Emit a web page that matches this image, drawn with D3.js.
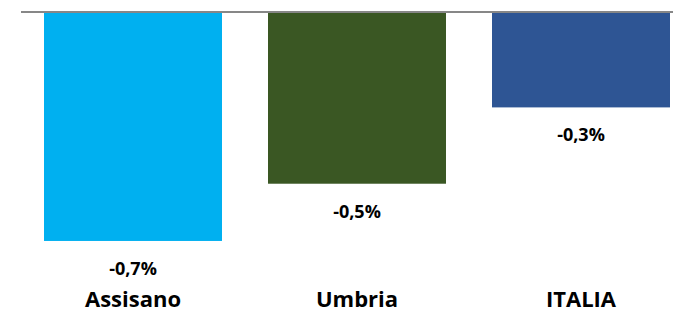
<!DOCTYPE html>
<html>
<head>
<meta charset="utf-8">
<script src="https://cdn.jsdelivr.net/npm/d3@7"></script>
<style>
  body { margin: 0; background: #fff; }
  svg { display: block; }
  text { font-family: "Open Sans", sans-serif; font-weight: bold; fill: #000; }
</style>
</head>
<body>
<svg width="673" height="312"></svg>
<script>
var categories = ["Assisano", "Umbria", "ITALIA"];
var values = [-0.72, -0.54, -0.30];
var colors = ["#00B0F0", "#3A5723", "#2E5594"];

var svg = d3.select("svg");

var xScale = d3.scaleBand()
  .domain(categories)
  .range([21, 693])
  .paddingInner(0.2054)
  .paddingOuter(0.1027);

var yScale = d3.scaleLinear()
  .domain([-1, 0])
  .range([12 + 318, 12]);

var fmt = v => (v < 0 ? "-" : "") + Math.abs(v).toFixed(1).replace(".", ",") + "%";

var g = svg.append("g");

g.selectAll("rect")
  .data(values)
  .enter()
  .append("rect")
  .attr("x", (d, i) => xScale(categories[i]))
  .attr("y", yScale(0))
  .attr("width", xScale.bandwidth())
  .attr("height", d => yScale(d) - yScale(0))
  .attr("fill", (d, i) => colors[i]);

// axis line at zero
g.append("line")
  .attr("x1", 21)
  .attr("x2", 673)
  .attr("y1", yScale(0))
  .attr("y2", yScale(0))
  .attr("stroke", "#878787")
  .attr("stroke-width", 2);

// value labels under each bar
g.selectAll("text.val")
  .data(values)
  .enter()
  .append("text")
  .attr("class", "val")
  .attr("x", (d, i) => xScale(categories[i]) + xScale.bandwidth() / 2)
  .attr("y", d => yScale(d) + 34)
  .attr("text-anchor", "middle")
  .style("font-size", "18px")
  .text(d => fmt(d));

// category labels
g.selectAll("text.cat")
  .data(categories)
  .enter()
  .append("text")
  .attr("class", "cat")
  .attr("x", d => xScale(d) + xScale.bandwidth() / 2)
  .attr("y", 307)
  .attr("text-anchor", "middle")
  .style("font-size", "22px")
  .text(d => d);
</script>
</body>
</html>
